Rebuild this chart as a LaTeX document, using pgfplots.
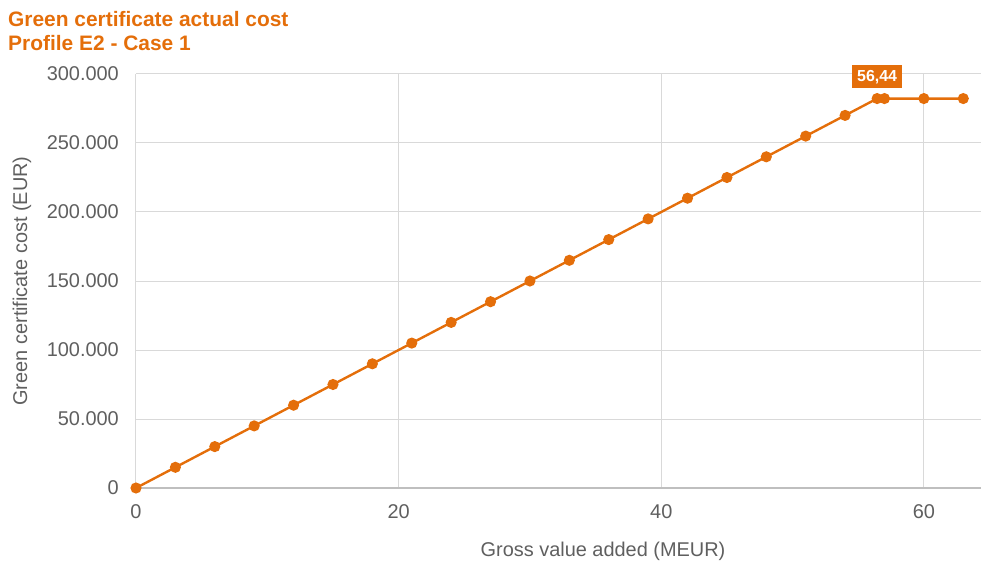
\documentclass[border=0pt]{standalone}
\usepackage{pgfplots}
\pgfplotsset{compat=1.18}
\usepackage{fontspec}
\setmainfont{Liberation Sans}
\definecolor{orng}{RGB}{228,110,10}
\definecolor{gridc}{RGB}{217,217,217}
\definecolor{axc}{RGB}{191,191,191}
\definecolor{txt}{RGB}{95,95,95}
\begin{document}
\begin{tikzpicture}[x=1bp,y=1bp]
\begin{axis}[
    name=ax,
    at={(0,0)}, anchor=south west,
    scale only axis,
    width=845bp, height=414bp,
    xmin=0, xmax=64.35,
    ymin=0, ymax=300000,
    xtick={0,20,40,60},
    ytick={0,50000,100000,150000,200000,250000,300000},
    yticklabels={0,50.000,100.000,150.000,200.000,250.000,300.000},
    scaled y ticks=false,
    grid=major,
    major grid style={gridc, line width=1bp},
    major tick length=0pt,
    axis line style={draw=none},
    tick label style={font=\fontsize{20}{24}\selectfont, text=txt},
    /pgf/number format/assume math mode=true,
    yticklabel style={inner sep=0pt, xshift=-17bp},
    xticklabel style={inner sep=0pt, yshift=-16bp},
    clip=false,
]
\addplot[color=orng, line width=2.4bp, mark=*, mark size=4.3bp, mark options={solid, fill=orng, draw=orng}]
coordinates {
(0,0) (3,15000) (6,30000) (9,45000) (12,60000) (15,75000) (18,90000)
(21,105000) (24,120000) (27,135000) (30,150000) (33,165000) (36,180000)
(39,195000) (42,210000) (45,225000) (48,240000) (51,255000) (54,270000)
(56.44,282200) (57,282200) (60,282200) (63,282200)
};
\draw[axc, line width=1.2bp] (axis cs:0,0) -- (axis cs:64.35,0);
\node[fill=orng, text=white, font=\fontsize{16}{19}\selectfont\bfseries, minimum width=50bp, minimum height=23bp, inner sep=0pt, anchor=south] at ([yshift=10bp]axis cs:56.44,282200) {56,44};
\end{axis}
\node[anchor=base west, text=orng, font=\fontsize{21}{24}\selectfont\bfseries, inner sep=0pt] at (-128bp,461bp) {Green certificate actual cost};
\node[anchor=base west, text=orng, font=\fontsize{21}{24}\selectfont\bfseries, inner sep=0pt] at (-128bp,437bp) {Profile E2 - Case 1};
\node[rotate=90, text=txt, font=\fontsize{20}{24}\selectfont, inner sep=0pt] at (-114bp,207bp) {Green certificate cost (EUR)};
\node[text=txt, font=\fontsize{20}{24}\selectfont, inner sep=0pt] at (467bp,-63bp) {Gross value added (MEUR)};
\pgfresetboundingbox
\path[use as bounding box] (-136bp,-75bp) rectangle (845bp,488bp);
\end{tikzpicture}
\end{document}
